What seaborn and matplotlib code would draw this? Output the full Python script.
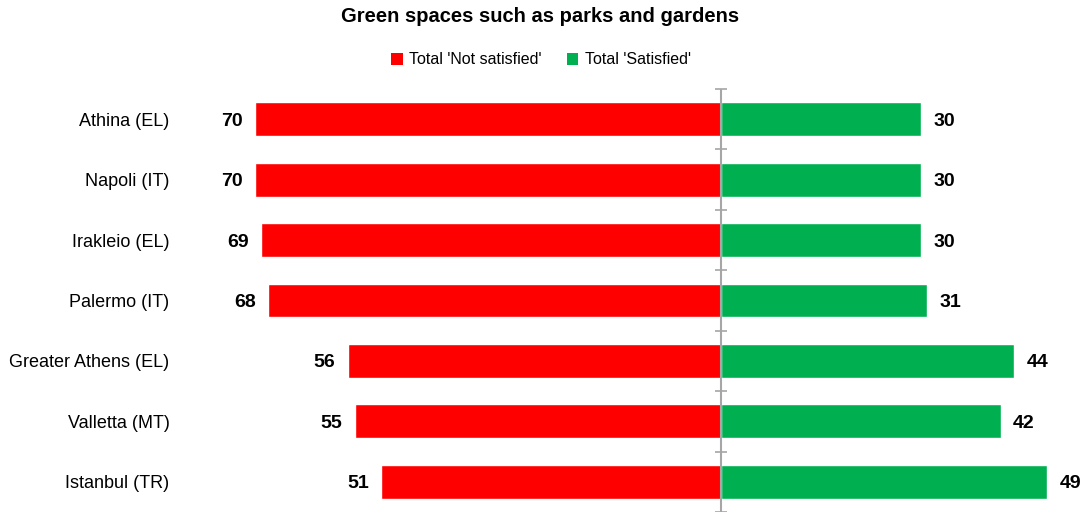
import matplotlib
matplotlib.use("Agg")
import matplotlib.pyplot as plt
import pandas as pd
import seaborn as sns
from matplotlib.patches import Patch

cities = ["Athina (EL)", "Napoli (IT)", "Irakleio (EL)", "Palermo (IT)",
          "Greater Athens (EL)", "Valletta (MT)", "Istanbul (TR)"]
not_satisfied = [70, 70, 69, 68, 56, 55, 51]
satisfied = [30, 30, 30, 31, 44, 42, 49]
series = ["Total 'Not satisfied'", "Total 'Satisfied'"]
colors = ["#FF0000", "#00B050"]

df = pd.concat([
    pd.DataFrame({"city": cities, "value": [-v for v in not_satisfied], "series": series[0]}),
    pd.DataFrame({"city": cities, "value": satisfied, "series": series[1]}),
])

sns.set_style("white")
plt.rcParams["font.family"] = ["Liberation Sans", "DejaVu Sans"]
plt.rcParams["text.color"] = "black"
plt.rcParams["ytick.labelcolor"] = "black"

fig = plt.figure(figsize=(10.83, 5.12), dpi=100)
left_px, right_px, center_px = 200, 1075, 721
ax = fig.add_axes([left_px / 1083, 0.0, (right_px - left_px) / 1083, 1 - 89 / 512])

sns.barplot(data=df, x="value", y="city", hue="series", palette=colors,
            saturation=1, dodge=False, width=0.56, orient="h", legend=False, ax=ax)

scale = 6.66
xmin = -(center_px - left_px) / scale
xmax = (right_px - center_px) / scale
ax.set_xlim(xmin, xmax)
ax.set_ylim(len(cities) - 0.5, -0.5)

for cont, vals in zip(ax.containers, [not_satisfied, satisfied]):
    texts = ax.bar_label(cont, labels=[str(v) for v in vals], padding=9,
                         fontsize=14, fontweight="bold", color="black")
    for t in texts:
        t.set_va("center_baseline")

for s in ax.spines.values():
    s.set_visible(False)
ax.set_xticks([])
ax.set_xlabel("")
ax.set_ylabel("")
ax.tick_params(axis="y", length=0, pad=22, labelsize=13, labelcolor="black")

# centre axis with tick marks between categories
ax.axvline(0, color="#A6A6A6", linewidth=1.5, zorder=5)
sec = ax.secondary_yaxis(-xmin / (xmax - xmin))
sec.set_zorder(6)
sec.set_yticks([i - 0.5 for i in range(len(cities) + 1)])
sec.set_yticklabels([])
for s in sec.spines.values():
    s.set_visible(False)
sec.tick_params(axis="y", direction="inout", length=8, width=1.2, color="#A6A6A6")

fig.text(540 / 1083, 1 - 16 / 512, "Green spaces such as parks and gardens",
         ha="center", va="center", fontsize=14.5, fontweight="bold", color="black")

handles = [Patch(facecolor=c, edgecolor="none") for c in colors]
fig.legend(handles, series, loc="center", bbox_to_anchor=(541 / 1083, 1 - 60 / 512),
           ncol=2, frameon=False, fontsize=11.5, handlelength=0.7, handleheight=0.7,
           handletextpad=0.4, columnspacing=1.6, labelcolor="black")

fig.savefig("out.png", dpi=100)
